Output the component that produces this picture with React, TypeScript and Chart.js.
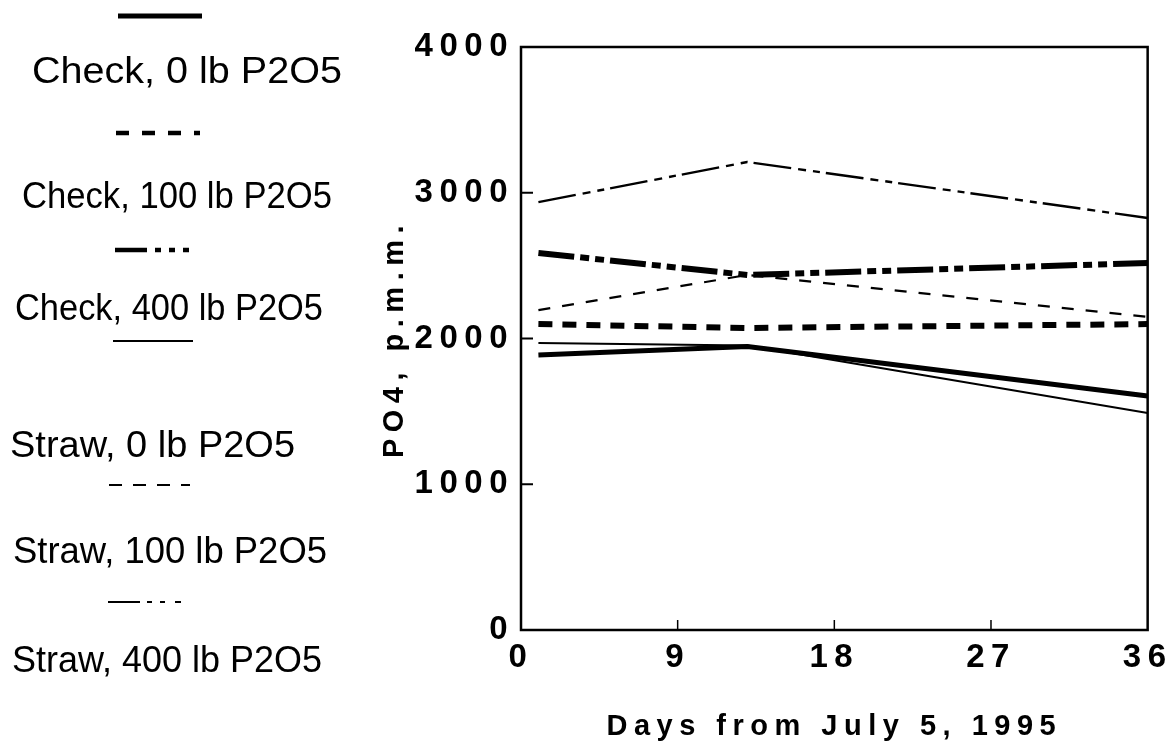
import React, { useEffect, useRef } from "react";
import { Chart, registerables } from "chart.js";

Chart.register(...registerables);

// ---- data ----
const days = [1, 13, 36];
const seriesLabels = [
  "Check, 0 lb P2O5",
  "Check, 100 lb P2O5",
  "Check, 400 lb P2O5",
  "Straw, 0 lb P2O5",
  "Straw, 100 lb P2O5",
  "Straw, 400 lb P2O5",
];
const check0 = [1887, 1945, 1605];
const check100 = [2099, 2072, 2099];
const check400 = [2587, 2436, 2518];
const straw0 = [1969, 1952, 1489];
const straw100 = [2195, 2436, 2148];
const straw400 = [2936, 3211, 2827];
const xTickValues = [0, 9, 18, 27, 36];
const yTickValues = [0, 1000, 2000, 3000, 4000];
const xTitle = "Days from July 5, 1995";
const yTitle = "PO4, p.m.m.";

// ---- styles ----
const lineStyles = [
  { width: 5, dash: [] as number[], legendDash: [] as number[] },
  { width: 6, dash: [14, 10], legendDash: [13, 13] },
  { width: 6, dash: [36, 6, 9, 6, 9, 6], legendDash: [32, 8, 6, 8, 6, 8, 6, 100] },
  { width: 2, dash: [] as number[], legendDash: [] as number[] },
  { width: 2.2, dash: [12, 12], legendDash: [13, 11] },
  { width: 2.4, dash: [38, 7, 8, 7, 7, 6], legendDash: [32, 7, 5, 8, 5, 10, 6, 100] },
];

// legend layout (pixel placement of the left-side key)
const legendLayout = [
  { lineY: 16, lineX0: 118, lineX1: 202, textX: 32, textW: 310, baseline: 83 },
  { lineY: 133, lineX0: 116, lineX1: 200, textX: 22, textW: 310, baseline: 208 },
  { lineY: 250, lineX0: 115, lineX1: 193, textX: 15, textW: 308, baseline: 320 },
  { lineY: 341, lineX0: 113, lineX1: 193, textX: 10, textW: 285, baseline: 457 },
  { lineY: 485, lineX0: 109, lineX1: 190, textX: 13, textW: 314, baseline: 563 },
  { lineY: 602, lineX0: 108, lineX1: 188, textX: 12, textW: 310, baseline: 672 },
];

const seriesValues = [check0, check100, check400, straw0, straw100, straw400];

const framePlugin = {
  id: "frameAndKey",
  beforeDraw(chart: any) {
    chart.ctx.letterSpacing = "6.5px";
  },
  beforeDatasetsDraw(chart: any) {
    chart.ctx.letterSpacing = "0px";
  },
  afterDraw(chart: any) {
    const ctx = chart.ctx as CanvasRenderingContext2D;
    const { left, right, top, bottom } = chart.chartArea;
    const xs = chart.scales.x;
    const ys = chart.scales.y;
    ctx.save();
    (ctx as any).letterSpacing = "0px";
    ctx.strokeStyle = "#000";
    ctx.setLineDash([]);
    ctx.lineWidth = 2.5;
    ctx.strokeRect(left, top, right - left, bottom - top);
    // inward tick marks
    ctx.lineWidth = 2;
    yTickValues.slice(1, -1).forEach((v) => {
      const py = ys.getPixelForValue(v);
      ctx.beginPath();
      ctx.moveTo(left, py);
      ctx.lineTo(left + 12, py);
      ctx.stroke();
    });
    ctx.lineWidth = 1.5;
    xTickValues.slice(1, -1).forEach((v) => {
      const px = xs.getPixelForValue(v);
      ctx.beginPath();
      ctx.moveTo(px, bottom);
      ctx.lineTo(px, bottom - 10);
      ctx.stroke();
    });
    // key
    chart.data.datasets.forEach((ds: any, i: number) => {
      const L = legendLayout[i];
      const st = lineStyles[i];
      ctx.lineWidth = i === 0 ? 5 : i === 1 || i === 2 ? 4.5 : 2;
      ctx.setLineDash(st.legendDash);
      ctx.lineCap = "butt";
      ctx.beginPath();
      ctx.moveTo(L.lineX0, L.lineY);
      ctx.lineTo(L.lineX1, L.lineY);
      ctx.stroke();
      ctx.setLineDash([]);
      ctx.font = '36px "Liberation Sans", Arial, sans-serif';
      ctx.fillStyle = "#000";
      ctx.textBaseline = "alphabetic";
      ctx.textAlign = "left";
      const w = ctx.measureText(ds.label).width;
      ctx.save();
      ctx.translate(L.textX, L.baseline);
      ctx.scale(L.textW / w, 1);
      ctx.fillText(ds.label, 0, 0);
      ctx.restore();
    });
    ctx.restore();
  },
};

export default function App() {
  const ref = useRef<HTMLCanvasElement | null>(null);
  useEffect(() => {
    if (!ref.current) return;
    const tickFont = { family: '"Liberation Sans", Arial, sans-serif', size: 33, weight: "bold" as const };
    const titleFont = { family: '"Liberation Sans", Arial, sans-serif', size: 29, weight: "bold" as const };
    const chart = new Chart(ref.current, {
      type: "line",
      data: {
        datasets: seriesLabels.map((label, i) => ({
          label,
          data: days.map((d, j) => ({ x: d, y: seriesValues[i][j] })),
          borderColor: "#000",
          backgroundColor: "#000",
          borderWidth: lineStyles[i].width,
          borderDash: lineStyles[i].dash,
          borderCapStyle: "butt" as const,
          borderJoinStyle: "round" as const,
          pointRadius: 0,
          tension: 0,
          fill: false,
        })),
      },
      options: {
        animation: false,
        responsive: false,
        devicePixelRatio: 1,
        layout: { padding: { left: 360, top: 47, right: 19, bottom: 0 } },
        plugins: { legend: { display: false }, tooltip: { enabled: false } },
        scales: {
          x: {
            type: "linear",
            min: 0,
            max: 36,
            afterFit: (s: any) => {
              s.height = 120;
            },
            afterBuildTicks: (s: any) => {
              s.ticks = xTickValues.map((v) => ({ value: v }));
            },
            grid: { display: false, drawTicks: false },
            border: { display: false },
            ticks: {
              color: "#000",
              font: tickFont,
              padding: 8,
              autoSkip: false,
              maxRotation: 0,
              callback: (v: any) => String(v),
            },
            title: { display: true, text: xTitle, color: "#000", font: titleFont, padding: { top: 0, bottom: 6 } },
          },
          y: {
            type: "linear",
            min: 0,
            max: 4000,
            afterFit: (s: any) => {
              s.width = 161;
            },
            afterBuildTicks: (s: any) => {
              s.ticks = yTickValues.map((v) => ({ value: v }));
            },
            grid: { display: false, drawTicks: false },
            border: { display: false },
            ticks: {
              color: "#000",
              font: tickFont,
              padding: 7,
              autoSkip: false,
              callback: (v: any) => String(v),
            },
            title: { display: true, text: yTitle, color: "#000", font: titleFont, padding: { top: 18, bottom: 0 } },
          },
        },
      },
      plugins: [framePlugin],
    });
    return () => chart.destroy();
  }, []);
  return (
    <div style={{ position: "absolute", left: 0, top: 0, width: 1174, height: 750, background: "#fff" }}>
      <canvas ref={ref} width={1174} height={750} style={{ display: "block" }} />
    </div>
  );
}
